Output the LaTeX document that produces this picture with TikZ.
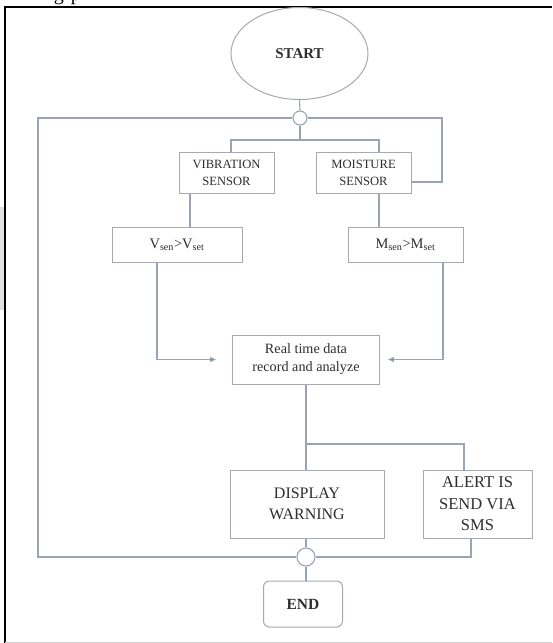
\documentclass[tikz,border=0pt]{standalone}
\usepackage{fontspec}
\setmainfont{Liberation Serif}
\usetikzlibrary{shapes.geometric,arrows.meta}
\definecolor{ln}{HTML}{98A4B4}
\definecolor{bx}{HTML}{A6AAB0}
\definecolor{tx}{HTML}{2E2E2E}
\definecolor{ah}{HTML}{6E7E98}
\begin{document}
\begin{tikzpicture}[x=1pt,y=-1pt,
  box/.style={draw=bx,line width=1pt,fill=white,text=tx,align=center,inner sep=0pt},
  wire/.style={draw=ln,line width=1.1pt},
  arr/.style={wire,-{Triangle[length=6pt,width=5pt,fill=ah]}},
  junc/.style={circle,draw=ln,line width=1.1pt,fill=white,inner sep=0pt}]
\useasboundingbox (0,0) rectangle (552,643);
\clip (0,0) rectangle (552,643);
% page artefacts
\fill[gray!25] (0,207) rectangle (3.5,310);
\draw[black,line width=2pt] (5,643) -- (5,6.5) -- (552,6.5);
\draw[gray!35,line width=1pt] (5,642) -- (552,642);
\node[anchor=base west,inner sep=0pt,font=\fontsize{20}{24}\selectfont,text=black] (cap) at (38,0.5) {ing\hspace{7pt}p};
% nodes
\node[box,ellipse,minimum width=137pt,minimum height=92pt,font=\fontsize{15}{18}\selectfont\bfseries] (start) at (299.5,53.5) {START};
\node[junc,minimum size=14pt] (c1) at (300,118) {};
\node[box,minimum width=95pt,minimum height=41pt,font=\fontsize{12.6}{17}\selectfont] (vib) at (226.5,172.5) {VIBRATION\\SENSOR};
\node[box,minimum width=95pt,minimum height=41pt,font=\fontsize{12.6}{17}\selectfont] (moist) at (363.5,172.5) {MOISTURE\\SENSOR};
\node[box,minimum width=130pt,minimum height=35pt,font=\fontsize{14.5}{17}\selectfont] (vsen) at (177,244.5) {V\textsubscript{sen}>V\textsubscript{set}};
\node[box,minimum width=115pt,minimum height=35pt,font=\fontsize{14.5}{17}\selectfont] (msen) at (405.5,244.5) {M\textsubscript{sen}>M\textsubscript{set}};
\node[box,minimum width=147pt,minimum height=49pt,font=\fontsize{14.2}{18}\selectfont] (real) at (306,359.5) {Real time data\\record and analyze};
\node[box,minimum width=154pt,minimum height=68pt,font=\fontsize{16}{21}\selectfont] (disp) at (307,504) {DISPLAY\\WARNING};
\node[box,minimum width=109pt,minimum height=68pt,font=\fontsize{16.5}{21.5}\selectfont] (alert) at (477.5,504) {ALERT IS\\SEND VIA\\SMS};
\node[junc,minimum size=18pt] (c2) at (306,557) {};
\node[box,rounded corners=6pt,minimum width=79pt,minimum height=46pt,font=\fontsize{15.5}{18}\selectfont\bfseries] (end) at (303,604) {END};
% coordinates
\coordinate (j1) at (300,140);
\coordinate (tl) at (38,118);
\coordinate (bl) at (38,557);
\coordinate (tr) at (442,118);
\coordinate (rr) at (442,182);
\coordinate (j2) at (306,444);
% connectors
\draw[wire] (start.south) -- (c1.north);
\draw[wire] (c1.south) -- (j1);
\draw[wire] ([xshift=4.5pt]vib.north) |- ([xshift=15.5pt]moist.north |- j1) -- ([xshift=15.5pt]moist.north);
\draw[wire] (c1.west) -- (tl) -- (bl) -- (c2.west);
\draw[wire] (c1.east) -- (tr) -- (rr) -- (moist.east |- rr);
\draw[wire] ([xshift=-36.5pt]vib.south) -- ([xshift=-36.5pt]vib.south |- vsen.north);
\draw[wire] ([xshift=15.5pt]moist.south) -- ([xshift=15.5pt]moist.south |- msen.north);
\draw[arr] ([xshift=-20pt]vsen.south) |- ([xshift=-16pt]real.west);
\draw[arr] ([xshift=37.5pt]msen.south) |- ([xshift=8pt]real.east);
\draw[wire] (real.south) -- (j2) -| ([xshift=-13.5pt]alert.north);
\draw[wire] (j2) -- (j2 |- disp.north);
\draw[wire] (c2.north |- disp.south) -- (c2.north);
\draw[wire] ([xshift=-6.5pt]alert.south) |- (c2.east);
\draw[wire] (c2.south) -- (c2.south |- end.north);
\end{tikzpicture}
\end{document}
